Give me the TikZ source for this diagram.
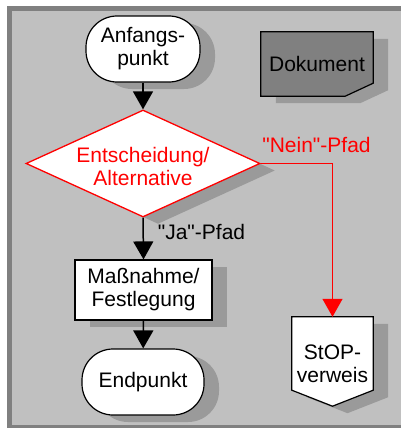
\documentclass[tikz,border=0pt]{standalone}
\usepackage{fontspec}
\setmainfont{Liberation Sans}
\usetikzlibrary{arrows.meta,shapes.geometric,shadows}
\definecolor{bggray}{HTML}{C0C0C0}
\definecolor{framegray}{HTML}{808080}
\definecolor{shgray}{HTML}{9A9A9A}
\definecolor{docgray}{HTML}{808080}
\definecolor{myred}{HTML}{FF0000}
\tikzset{
  txt/.style={font=\fontsize{21}{23}\selectfont, align=center},
  shad/.style={drop shadow={shadow xshift=15pt,shadow yshift=-7pt,fill=shgray,opacity=1}},
  terminal/.style={draw=black, line width=1.2pt, fill=white, rounded corners=31pt, shad, minimum height=66pt, inner sep=0pt, txt},
  process/.style={draw=black, line width=1.2pt, fill=white, shad, minimum width=137pt, minimum height=60pt, inner sep=0pt, txt},
  decision/.style={diamond, draw=myred, line width=1.3pt, fill=white, shad, minimum width=234pt, minimum height=107pt, inner sep=0pt},
  flow/.style={line width=1.5pt, -{Triangle[width=20pt,length=18pt]}},
  redflow/.style={flow, draw=myred, line width=1.2pt, -{Triangle[width=20pt,length=18pt,fill=myred]}},
}
\begin{document}
\begin{tikzpicture}[x=1pt,y=-1pt]
\useasboundingbox (0,0) rectangle (401,428);
% frame
\fill[bggray] (7,6) rectangle (410,430);
\draw[framegray, line width=5pt] (9.5,8.5) rectangle (405,427.5);

% nodes
\node[terminal, minimum width=114pt] (start) at (143,49) {Anfangs-\\punkt};
\node[decision] (dia) at (143,163.5) {};
\node[txt, text=myred] (diatext) at (143,166) {Entscheidung/\\Alternative};
\node[process] (box) at (143.5,290) {Maßnahme/\\Festlegung};
\node[terminal, minimum width=122pt] (end) at (143,382) {Endpunkt};

% Dokument
\node[minimum width=112pt, minimum height=64pt, inner sep=0pt] (doc) at (317,64) {};
\draw[fill=docgray, line width=1.2pt, shad]
  (doc.north west) -- (doc.north east) -- ([yshift=13pt]doc.south east)
  -- ([xshift=-28pt]doc.south east) -- (doc.south west) -- cycle;
\node[txt] (doctext) at (doc.center) {Dokument};

% StOP-Verweis
\node[minimum width=81pt, minimum height=89pt, inner sep=0pt] (stop) at (332.5,361.5) {};
\draw[fill=white, line width=1.2pt, shad]
  (stop.north west) -- (stop.north east) -- ([yshift=16pt]stop.south east)
  -- (stop.south) -- ([yshift=16pt]stop.south west) -- cycle;
\node[txt] (stoptext) at (332.5,364) {StOP-\\verweis};

% connectors
\draw[flow] (start) -- (dia.north);
\draw[flow] (dia.south) -- (box.north);
\draw[flow] (box) -- (end);
\draw[redflow] (dia.east) -| (stop.north);

% labels
\node[txt] (ja) at (201.5,232) {\textquotedbl Ja\textquotedbl-Pfad};
\node[txt, text=myred] (nein) at (316.5,145) {\textquotedbl Nein\textquotedbl-Pfad};
\end{tikzpicture}
\end{document}
